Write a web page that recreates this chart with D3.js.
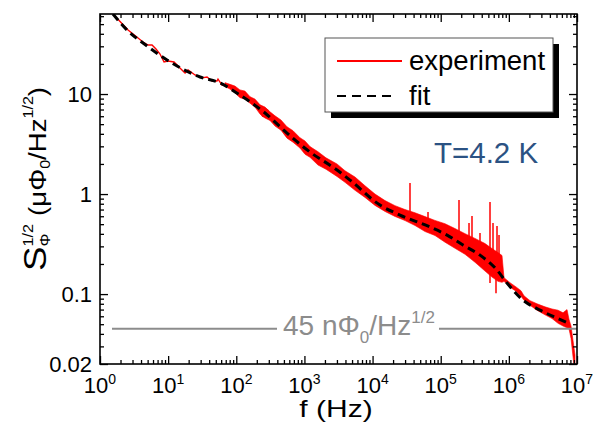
<!DOCTYPE html>
<html><head><meta charset="utf-8">
<script src="https://cdn.jsdelivr.net/npm/d3@7"></script>
<style>body{margin:0;background:#fff}svg{display:block;font-family:Arial,"Liberation Sans",sans-serif}</style>
</head><body><svg id="c" width="594" height="424"></svg>
<script>
// ---------- data (f in Hz, S in µΦ0/Hz^1/2) ----------
const fitF = [1.55, 2.58, 4.28, 9.62, 29.4, 57.7, 113, 264, 555, 1207, 3006, 4665, 12850, 25260, 69640, 123700, 212400, 377100, 669900, 939400, 1.613e6, 2.864e6, 5.087e6, 7.38e6];
const fitS = [63.1, 42.7, 32.4, 21.9, 14.8, 12.9, 9.77, 6.46, 4.07, 2.63, 1.74, 1.38, 0.776, 0.617, 0.468, 0.389, 0.309, 0.245, 0.174, 0.129, 0.0871, 0.0692, 0.0575, 0.0513];

// low-frequency part of the measured spectrum (thin trace)
const expLineF = [1.55, 2.58, 4.28, 5.06, 5.80, 6.63, 7.60, 8.70, 9.95, 12.2, 13.95, 16.5, 17.7, 19.6, 24.8, 31.4, 37.2, 44.0, 52.1, 53.9, 61.7, 68.3];
const expLineS = [63.1, 43.7, 33.1, 30.9, 30.9, 28.2, 25.1, 20.9, 21.4, 20.9, 19.05, 17.0, 16.2, 17.4, 15.5, 14.5, 14.8, 13.5, 13.5, 14.1, 12.3, 12.4];

// noisy part of the measured spectrum: upper / lower envelope
const bandF  = [68.3, 80.9, 95.7, 113, 134, 159, 188, 223, 264, 312, 370, 453, 555, 680, 861, 1019, 1207, 1582, 2073, 3006, 3939, 5524, 7745, 10860, 15220, 21340, 29920, 41950, 58810, 82450, 115600, 162000, 227300, 318600, 446700, 565800, 693000, 793300, 848900, 1.04e6, 1.273e6, 1.508e6, 1.669e6, 2.044e6, 2.589e6, 3.393e6, 4.298e6, 5.264e6, 6.233e6, 7.136e6, 7.63e6, 8.17e6, 9.35e6];
const bandHi = [13.0, 12.5, 12.0, 11.0, 10.7, 9.40, 8.90, 7.80, 7.40, 6.65, 6.05, 5.50, 4.70, 4.30, 3.65, 3.40, 2.98, 2.65, 2.30, 2.00, 1.71, 1.48, 1.21, 1.00, 0.860, 0.766, 0.700, 0.650, 0.595, 0.545, 0.505, 0.452, 0.402, 0.360, 0.320, 0.285, 0.260, 0.243, 0.146, 0.130, 0.118, 0.108, 0.0960, 0.0860, 0.0800, 0.0745, 0.0710, 0.0690, 0.0650, 0.0700, 0.0560, 0.0480, 0.0246];
const bandLo = [11.9, 11.2, 10.3, 9.20, 8.90, 8.10, 7.40, 6.30, 5.75, 5.45, 4.78, 4.35, 3.62, 3.30, 2.88, 2.50, 2.33, 1.95, 1.77, 1.50, 1.31, 1.09, 0.925, 0.770, 0.670, 0.597, 0.543, 0.485, 0.422, 0.385, 0.330, 0.287, 0.250, 0.208, 0.170, 0.148, 0.134, 0.131, 0.134, 0.117, 0.107, 0.0950, 0.0866, 0.0772, 0.0690, 0.0620, 0.0570, 0.0510, 0.0480, 0.0460, 0.0450, 0.0360, 0.0155];

// interference spikes
const spikeF  = [35420, 65090, 185500, 212400, 260200, 287800, 377100, 528900, 585300, 669900, 717100, 647700, 528900];
const spikeHi = [1.288, 0.661, 0.871, 0.389, 0.513, 0.603, 0.407, 0.832, 0.513, 0.479, 0.389, 0.18, 0.2];
const spikeLo = [0.55, 0.45, 0.33, 0.30, 0.28, 0.27, 0.24, 0.20, 0.19, 0.17, 0.16, 0.102, 0.129];

// blob in the trace
const blobF = [264];
const blobS = [6.46];

// white-noise level line (45 nΦ0/Hz^1/2)
const noiseLevel = 0.045;
const noiseSegF = [[1.5, 396], [94400, 1e7]];

// ticks
const xMajor = [1, 10, 100, 1e3, 1e4, 1e5, 1e6, 1e7];
const xExp = ["0", "1", "2", "3", "4", "5", "6", "7"];
const yMajor = [0.02, 0.1, 1, 10];
const yLabels = ["0.02", "0.1", "1", "10"];

// ---------- drawing ----------
const svg = d3.select("#c");
const L = 100, R = 577, T = 14, B = 364;
const x = d3.scaleLog().domain([1, 1e7]).range([L, R]);
const y = d3.scaleLog().domain([0.02, 63.1]).range([B, T]);

const xMinor = [];
for (let d = 0; d < 7; d++) for (let k = 2; k <= 9; k++) xMinor.push(k * Math.pow(10, d));
const yMinor = [];
for (let d = -2; d <= 1; d++) for (let k = 2; k <= 9; k++) { const v = k * Math.pow(10, d); if (v > 0.02 && v < 63.1 && !yMajor.includes(v)) yMinor.push(+v.toPrecision(3)); }

svg.append("clipPath").attr("id", "clip").append("rect").attr("x", L).attr("y", T).attr("width", R - L).attr("height", B - T);
const plot = svg.append("g").attr("clip-path", "url(#clip)");

// band
const band = bandF.map((f, i) => ({f, hi: bandHi[i], lo: bandLo[i]}));
plot.append("path").datum(band)
  .attr("d", d3.area().x(d => x(d.f)).y0(d => y(d.lo)).y1(d => y(d.hi)))
  .attr("fill", "#ff0000").attr("stroke", "#ff0000").attr("stroke-width", 0.6);

// thin trace
plot.append("path").datum(expLineF.map((f, i) => ({f, s: expLineS[i]})))
  .attr("d", d3.line().x(d => x(d.f)).y(d => y(d.s)))
  .attr("fill", "none").attr("stroke", "#ff0000").attr("stroke-width", 1.4);

// spikes
plot.selectAll("line.sp").data(spikeF.map((f, i) => ({f, hi: spikeHi[i], lo: spikeLo[i]}))).join("line")
  .attr("x1", d => x(d.f)).attr("x2", d => x(d.f)).attr("y1", d => y(d.hi)).attr("y2", d => y(d.lo))
  .attr("stroke", "#ff0000").attr("stroke-width", 1.5);

plot.selectAll("circle.blob").data(blobF.map((f, i) => ({f, s: blobS[i]}))).join("circle")
  .attr("cx", d => x(d.f)).attr("cy", d => y(d.s)).attr("r", 4.5).attr("fill", "#ff0000");

// fit
plot.append("path").datum(fitF.map((f, i) => ({f, s: fitS[i]})))
  .attr("d", d3.line().x(d => x(d.f)).y(d => y(d.s)).curve(d3.curveMonotoneX))
  .attr("fill", "none").attr("stroke", "#000").attr("stroke-width", 3).attr("stroke-dasharray", "8,5");

// noise level line
plot.selectAll("line.nl").data(noiseSegF).join("line")
  .attr("x1", d => x(d[0])).attr("x2", d => x(d[1])).attr("y1", y(noiseLevel)).attr("y2", y(noiseLevel))
  .attr("stroke", "#8c8c8c").attr("stroke-width", 2);

const nt = svg.append("text").attr("x", 283).attr("y", 335).attr("fill", "#8c8c8c").attr("font-size", 28);
nt.append("tspan").text("45 n\u03A6");
nt.append("tspan").attr("font-size", 17).attr("dy", 8).text("0");
nt.append("tspan").attr("dy", -8).text("/Hz");
nt.append("tspan").attr("font-size", 17).attr("dy", -12).text("1/2");

// axes (inward ticks)
function ax(gen, tr, vals, size) {
  const g = svg.append("g").attr("transform", tr).call(gen.tickValues(vals).tickSizeInner(size).tickSizeOuter(0).tickFormat(""));
  g.select(".domain").remove();
  g.selectAll(".tick line").attr("stroke", "#000").attr("stroke-width", 1.3);
}
ax(d3.axisBottom(x), `translate(0,${B})`, xMajor, -8);
ax(d3.axisBottom(x), `translate(0,${B})`, xMinor, -4);
ax(d3.axisTop(x), `translate(0,${T})`, xMajor, -8);
ax(d3.axisTop(x), `translate(0,${T})`, xMinor, -4);
ax(d3.axisLeft(y), `translate(${L},0)`, yMajor, -8);
ax(d3.axisLeft(y), `translate(${L},0)`, yMinor, -4);
ax(d3.axisRight(y), `translate(${R},0)`, yMajor, -8);
ax(d3.axisRight(y), `translate(${R},0)`, yMinor, -4);

svg.append("rect").attr("x", L).attr("y", T).attr("width", R - L).attr("height", B - T)
  .attr("fill", "none").attr("stroke", "#000").attr("stroke-width", 1.6);

// tick labels
svg.selectAll("text.yl").data(yMajor).join("text").attr("class", "yl")
  .attr("x", 92).attr("y", d => y(d)).attr("dy", "0.36em").attr("text-anchor", "end")
  .attr("font-size", 22).text((d, i) => yLabels[i]);
xMajor.forEach((v, i) => {
  const t = svg.append("text").attr("x", x(v)).attr("y", 393).attr("text-anchor", "middle").attr("font-size", 22);
  t.append("tspan").text("10");
  t.append("tspan").attr("font-size", 14).attr("dy", -9).text(xExp[i]);
});

// axis titles
svg.append("text").attr("transform", "translate(336,417) scale(1.25,1)").attr("text-anchor", "middle")
  .attr("font-size", 24).text("f (Hz)");
const yt = svg.append("text").attr("transform", "translate(46,179) rotate(-90) scale(1.15,1)")
  .attr("text-anchor", "middle").attr("font-size", 24);
yt.append("tspan").attr("font-size", 32).text("S");
yt.append("tspan").attr("font-size", 14).attr("dy", -13).text("1/2");
yt.append("tspan").attr("font-size", 14).attr("dx", -19.5).attr("dy", 17).text("\u03A6");
yt.append("tspan").attr("dx", 8.8).attr("dy", -4).text("\u00A0(\u03BC\u03A6");
yt.append("tspan").attr("font-size", 14).attr("dy", 4).text("0");
yt.append("tspan").attr("dy", -4).text("/Hz");
yt.append("tspan").attr("font-size", 14).attr("dy", -13).text("1/2");
yt.append("tspan").attr("dy", 13).text(")");

// legend
svg.append("rect").attr("x", 331).attr("y", 44).attr("width", 228).attr("height", 74).attr("fill", "#000");
svg.append("rect").attr("x", 325).attr("y", 38).attr("width", 228).attr("height", 74).attr("fill", "#fff").attr("stroke", "#555").attr("stroke-width", 1);
svg.append("line").attr("x1", 337).attr("x2", 402).attr("y1", 61).attr("y2", 61).attr("stroke", "#ff0000").attr("stroke-width", 2);
svg.append("line").attr("x1", 337).attr("x2", 395).attr("y1", 96).attr("y2", 96).attr("stroke", "#000").attr("stroke-width", 2).attr("stroke-dasharray", "9,6");
svg.append("text").attr("x", 409).attr("y", 70).attr("font-size", 27.5).text("experiment");
svg.append("text").attr("x", 409).attr("y", 105).attr("font-size", 27.5).text("fit");

svg.append("text").attr("x", 434).attr("y", 163).attr("font-size", 29.5).attr("fill", "#2b5283").text("T=4.2 K");
</script></body></html>
